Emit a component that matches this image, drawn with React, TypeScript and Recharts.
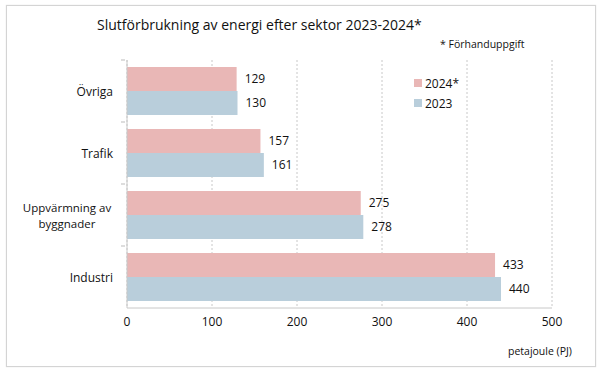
import React from 'react';
import { BarChart, Bar, XAxis, YAxis, CartesianGrid, LabelList, Legend } from 'recharts';

const categories = ['Övriga', 'Trafik', 'Uppvärmning av byggnader', 'Industri'];
const values2024 = [129, 157, 275, 433];
const values2023 = [130, 161, 278, 440];
const xTicks = [0, 100, 200, 300, 400, 500];
const seriesNames = ['2024*', '2023'];
const colors = ['#e9b7b6', '#b9cedb'];

const data = categories.map((c, i) => ({ name: c, y2024: values2024[i], y2023: values2023[i] }));

const FONT = '"Open Sans", sans-serif';

const YTick = (props: any) => {
  const { x, y, payload } = props;
  const label: string = payload.value;
  const multi = label === 'Uppvärmning av byggnader';
  const lh = 16;
  return (
    <g>
      <line x1={x - 4} x2={x} y1={y - 31} y2={y - 31} stroke="#bbb" />
      {multi ? (
        <g>
          <text x={x - 58} y={y - lh / 2} textAnchor="middle" fontSize={11.5} fill="#111" fontFamily={FONT} dominantBaseline="central">
            Uppvärmning av
          </text>
          <text x={x - 58} y={y + lh / 2} textAnchor="middle" fontSize={11.5} fill="#111" fontFamily={FONT} dominantBaseline="central">
            byggnader
          </text>
        </g>
      ) : (
        <text x={x - 12} y={y} textAnchor="end" fontSize={12} fill="#111" fontFamily={FONT} dominantBaseline="central">
          {label}
        </text>
      )}
    </g>
  );
};

const LegendContent = () => (
  <div style={{ fontFamily: FONT, fontSize: 12, color: '#111' }}>
    {seriesNames.map((n, i) => (
      <div key={n} style={{ display: 'flex', alignItems: 'center', height: 20 }}>
        <span style={{ width: 8, height: 8, background: colors[i], display: 'inline-block', marginRight: 3 }} />
        <span>{n}</span>
      </div>
    ))}
  </div>
);

export default function App() {
  return (
    <div style={{ position: 'absolute', left: 0, top: 0, width: 600, height: 372, background: '#fff' }}>
      <div style={{ position: 'absolute', left: 6, top: 5, width: 588, height: 360, border: '1px solid #d4d4d4', boxShadow: '0 0 1px #ddd' }} />
      <div style={{ position: 'absolute', left: 97, top: 15, fontFamily: FONT, fontSize: 14, color: '#111', whiteSpace: 'nowrap' }}>
        Slutförbrukning av energi efter sektor 2023-2024*
      </div>
      <div style={{ position: 'absolute', left: 440, top: 37, fontFamily: FONT, fontSize: 10.5, color: '#111', whiteSpace: 'nowrap' }}>
        * Förhanduppgift
      </div>
      <div style={{ position: 'absolute', left: 508, top: 344, fontFamily: FONT, fontSize: 10.5, color: '#111', whiteSpace: 'nowrap' }}>
        petajoule (PJ)
      </div>
      <div style={{ position: 'absolute', left: 0, top: 0 }}>
        <BarChart
          width={600}
          height={372}
          data={data}
          layout="vertical"
          margin={{ top: 60, right: 48, bottom: 34, left: 0 }}
          barCategoryGap={7}
          barGap={0}
        >
          <CartesianGrid horizontal={false} vertical stroke="#c8c8c8" strokeDasharray="2 2" />
          <XAxis
            type="number"
            domain={[0, 500]}
            ticks={xTicks}
            height={30}
            axisLine={{ stroke: '#c8c8c8' }}
            tickLine={false}
            tickSize={0}
            tickMargin={9}
            tick={{ fontSize: 12, fill: '#111', fontFamily: FONT }}
          />
          <YAxis
            type="category"
            dataKey="name"
            width={127}
            axisLine={{ stroke: '#c8c8c8' }}
            tickLine={false}
            tickSize={0}
            tick={<YTick />}
            interval={0}
          />
          <Legend
            layout="vertical"
            verticalAlign="middle"
            align="center"
            content={<LegendContent />}
            wrapperStyle={{ left: 414, top: 73, width: 80 }}
          />
          <Bar dataKey="y2024" name={seriesNames[0]} fill={colors[0]} isAnimationActive={false}>
            <LabelList dataKey="y2024" position="right" offset={8} fill="#111" fontSize={12} fontFamily={FONT} />
          </Bar>
          <Bar dataKey="y2023" name={seriesNames[1]} fill={colors[1]} isAnimationActive={false}>
            <LabelList dataKey="y2023" position="right" offset={8} fill="#111" fontSize={12} fontFamily={FONT} />
          </Bar>
        </BarChart>
      </div>
    </div>
  );
}
